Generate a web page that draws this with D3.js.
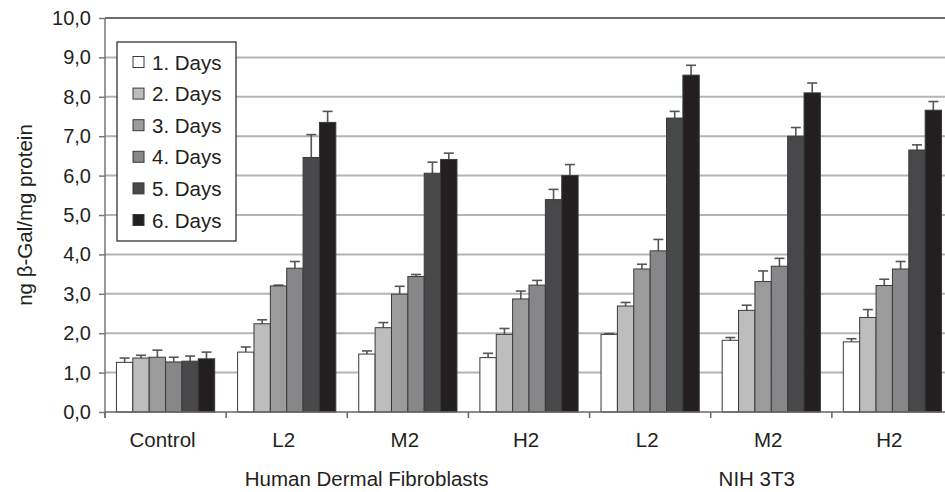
<!DOCTYPE html>
<html>
<head>
<meta charset="utf-8">
<script src="https://cdn.jsdelivr.net/npm/d3@7"></script>
<style>
  html, body { margin: 0; padding: 0; background: #fff; }
  svg { display: block; font-family: "Liberation Sans", Arial, sans-serif; }
</style>
</head>
<body>
<div id="chart"></div>
<script>
// categories (x axis) and the cell line each belongs to
const categories = ["Control", "L2", "M2", "H2", "L2", "M2", "H2"];
const groups = ["Human Dermal Fibroblasts", "NIH 3T3"];
// where each group label sits, in category units from the left axis
const group_pos = [2.16, 5.38];

// series
const series_names = ["1. Days", "2. Days", "3. Days", "4. Days", "5. Days", "6. Days"];
const series_colors = ["#ffffff", "#bdbdbd", "#9b9b9b", "#87878a", "#48484a", "#231f20"];

const day1 = [1.26, 1.52, 1.47, 1.38, 1.97, 1.82, 1.78];
const day2 = [1.37, 2.24, 2.14, 1.97, 2.69, 2.58, 2.40];
const day3 = [1.39, 3.20, 2.99, 2.87, 3.63, 3.31, 3.21];
const day4 = [1.27, 3.65, 3.44, 3.22, 4.09, 3.70, 3.63];
const day5 = [1.29, 6.46, 6.06, 5.39, 7.46, 7.00, 6.65];
const day6 = [1.35, 7.35, 6.41, 6.00, 8.55, 8.10, 7.66];

// error (upper) per series
const day1_err = [0.11, 0.13, 0.08, 0.11, 0.02, 0.07, 0.08];
const day2_err = [0.07, 0.10, 0.13, 0.15, 0.09, 0.13, 0.20];
const day3_err = [0.18, 0.02, 0.20, 0.20, 0.12, 0.27, 0.16];
const day4_err = [0.12, 0.17, 0.05, 0.12, 0.29, 0.20, 0.19];
const day5_err = [0.13, 0.58, 0.28, 0.26, 0.17, 0.22, 0.13];
const day6_err = [0.17, 0.28, 0.16, 0.28, 0.25, 0.25, 0.22];

// y ticks
const y_ticks = [0, 1, 2, 3, 4, 5, 6, 7, 8, 9, 10];
const y_title = "ng \u03b2-Gal/mg protein";

const values = [day1, day2, day3, day4, day5, day6];
const errors = [day1_err, day2_err, day3_err, day4_err, day5_err, day6_err];

const width = 945;
const height = 492;
const font_size = 20.5;
const tick_font_size = 20;
const text_color = "#231f20";

// plot area (right side runs off the picture, as in the original)
const plot_left = 105;
const plot_right = 953;
const plot_top = 18;
const plot_bottom = 412;

const svg = d3.select("#chart").append("svg")
    .attr("width", width)
    .attr("height", height)
;

// scales
const x0 = d3.scaleBand()
    .domain(d3.range(categories.length))
    .range([plot_left, plot_right])
    .padding(0)
;
const x1 = d3.scaleBand()
    .domain(d3.range(series_names.length))
    .range([0, x0.bandwidth()])
    .paddingInner(0)
    .paddingOuter(0.7)
;
const y = d3.scaleLinear()
    .domain([0, 10])
    .range([plot_bottom, plot_top])
;

// grid lines
svg.append("g")
    .selectAll("line")
    .data(y_ticks.filter(function(d){ return d > 0 && d < 10; }))
    .enter()
    .append("line")
    .attr("x1", plot_left)
    .attr("x2", width)
    .attr("y1", function(d){ return y(d); })
    .attr("y2", function(d){ return y(d); })
    .attr("stroke", "#b4b4b4")
    .attr("stroke-width", 2)
;
// top border
svg.append("line")
    .attr("x1", plot_left)
    .attr("x2", width)
    .attr("y1", y(10))
    .attr("y2", y(10))
    .attr("stroke", "#6e6e6e")
    .attr("stroke-width", 2)
;

// bars
const bar_data = [];
values.forEach(function(vals, s){
    vals.forEach(function(v, c){
        bar_data.push({ s: s, c: c, v: v, e: errors[s][c] });
    });
});

// error bars (drawn behind the bars)
const err_g = svg.append("g")
    .attr("stroke", "#555")
    .attr("stroke-width", 1.6)
;
err_g.selectAll("line.err")
    .data(bar_data)
    .enter()
    .append("line")
    .attr("class", "err")
    .attr("x1", function(d){ return x0(d.c) + x1(d.s) + x1.bandwidth() / 2; })
    .attr("x2", function(d){ return x0(d.c) + x1(d.s) + x1.bandwidth() / 2; })
    .attr("y1", function(d){ return y(d.v); })
    .attr("y2", function(d){ return y(d.v + d.e); })
;
err_g.selectAll("line.cap")
    .data(bar_data)
    .enter()
    .append("line")
    .attr("class", "cap")
    .attr("x1", function(d){ return x0(d.c) + x1(d.s) + x1.bandwidth() / 2 - 5; })
    .attr("x2", function(d){ return x0(d.c) + x1(d.s) + x1.bandwidth() / 2 + 5; })
    .attr("y1", function(d){ return y(d.v + d.e); })
    .attr("y2", function(d){ return y(d.v + d.e); })
;

svg.append("g")
    .selectAll("rect")
    .data(bar_data)
    .enter()
    .append("rect")
    .attr("x", function(d){ return x0(d.c) + x1(d.s); })
    .attr("y", function(d){ return y(d.v); })
    .attr("width", x1.bandwidth())
    .attr("height", function(d){ return y(0) - y(d.v); })
    .attr("fill", function(d){ return series_colors[d.s]; })
    .attr("stroke", "#3a3a3a")
    .attr("stroke-width", 1)
;

// y axis
const y_axis = svg.append("g")
    .attr("transform", "translate(" + plot_left + ",0)")
    .call(d3.axisLeft(y)
        .tickValues(y_ticks)
        .tickSize(6)
        .tickPadding(8)
        .tickFormat(function(d){ return d3.format(".1f")(d).replace(".", ","); }))
;
y_axis.select(".domain")
    .attr("stroke", "#777")
    .attr("stroke-width", 1.5)
    .attr("d", "M0," + (plot_top) + "V" + (plot_bottom + 6))
;
y_axis.selectAll(".tick line")
    .attr("stroke", "#777")
    .attr("stroke-width", 1.5)
;
y_axis.selectAll(".tick text")
    .attr("font-size", tick_font_size)
    .attr("font-family", "Liberation Sans, Arial, sans-serif")
    .attr("fill", text_color)
;

// x axis (ticks at category boundaries)
svg.append("line")
    .attr("x1", plot_left)
    .attr("x2", width)
    .attr("y1", plot_bottom)
    .attr("y2", plot_bottom)
    .attr("stroke", "#666")
    .attr("stroke-width", 1.5)
;
svg.append("g")
    .selectAll("line")
    .data(d3.range(categories.length))
    .enter()
    .append("line")
    .attr("x1", function(d){ return x0(d); })
    .attr("x2", function(d){ return x0(d); })
    .attr("y1", plot_bottom)
    .attr("y2", plot_bottom + 6)
    .attr("stroke", "#666")
    .attr("stroke-width", 1.5)
;

// category labels
svg.append("g")
    .selectAll("text")
    .data(categories)
    .enter()
    .append("text")
    .text(function(d){ return d; })
    .attr("x", function(d, i){ return x0(i) + x0.bandwidth() / 2 - 3; })
    .attr("y", 447)
    .attr("text-anchor", "middle")
    .attr("font-size", font_size)
    .attr("fill", text_color)
;

// group labels
svg.append("g")
    .selectAll("text")
    .data(groups)
    .enter()
    .append("text")
    .text(function(d){ return d; })
    .attr("x", function(d, i){ return plot_left + group_pos[i] * x0.step(); })
    .attr("y", 486)
    .attr("text-anchor", "middle")
    .attr("font-size", font_size)
    .attr("fill", text_color)
;

// y title
svg.append("text")
    .text(y_title)
    .attr("transform", "translate(32,215) rotate(-90)")
    .attr("text-anchor", "middle")
    .attr("font-size", font_size)
    .attr("fill", text_color)
;

// legend
const legend_x = 117;
const legend_y = 42;
const legend_row = 31.6;
svg.append("rect")
    .attr("x", legend_x)
    .attr("y", legend_y)
    .attr("width", 119)
    .attr("height", 199)
    .attr("fill", "#fff")
    .attr("stroke", "#222")
    .attr("stroke-width", 1.2)
;
const leg = svg.append("g")
    .selectAll("g")
    .data(series_names)
    .enter()
    .append("g")
    .attr("transform", function(d, i){ return "translate(" + legend_x + "," + (legend_y + 20 + i * legend_row) + ")"; })
;
leg.append("rect")
    .attr("x", 16)
    .attr("y", -5.5)
    .attr("width", 11)
    .attr("height", 11)
    .attr("fill", function(d, i){ return series_colors[i]; })
    .attr("stroke", "#3a3a3a")
    .attr("stroke-width", 1)
;
leg.append("text")
    .text(function(d){ return d; })
    .attr("x", 35)
    .attr("y", 7.5)
    .attr("font-size", font_size)
    .attr("fill", text_color)
;
</script>
</body>
</html>
